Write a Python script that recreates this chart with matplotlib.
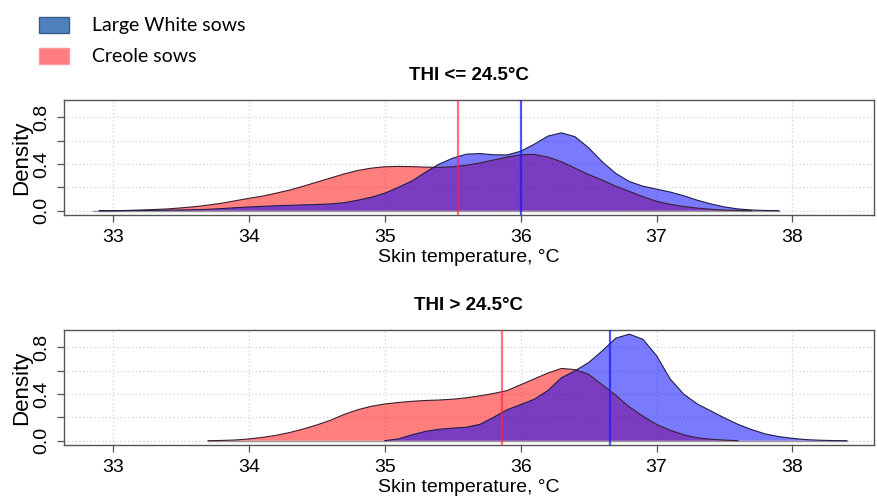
import matplotlib
matplotlib.use("Agg")
import matplotlib.pyplot as plt
from matplotlib.patches import Rectangle

# ---------------- data ----------------
legend_labels = ["Large White sows", "Creole sows"]
panel_titles = ["THI <= 24.5°C", "THI > 24.5°C"]
x_label = "Skin temperature, °C"
y_label = "Density"
x_ticks = [33, 34, 35, 36, 37, 38]
y_ticks = [0.0, 0.2, 0.4, 0.6, 0.8]
y_tick_labels = ["0.0", "", "0.4", "", "0.8"]

# Panel 1 (THI <= 24.5) - Creole sows density
creole_low_x = [32.9, 33.0, 33.1, 33.2, 33.3, 33.4, 33.5, 33.6, 33.7, 33.8, 33.9,
                34.0, 34.1, 34.2, 34.3, 34.4, 34.5, 34.6, 34.7, 34.8, 34.9,
                35.0, 35.1, 35.2, 35.3, 35.4, 35.5, 35.6, 35.7, 35.8, 35.9,
                36.0, 36.1, 36.2, 36.3, 36.4, 36.5, 36.6, 36.7, 36.8, 36.9,
                37.0, 37.1, 37.2, 37.3, 37.4, 37.5, 37.6, 37.7]
creole_low_y = [0.0, 0.0, 0.002, 0.005, 0.01, 0.015, 0.024, 0.034, 0.048, 0.064, 0.085,
                0.106, 0.125, 0.15, 0.177, 0.21, 0.245, 0.28, 0.315, 0.345, 0.365,
                0.377, 0.38, 0.378, 0.374, 0.372, 0.377, 0.39, 0.41, 0.435, 0.46,
                0.48, 0.483, 0.46, 0.42, 0.365, 0.31, 0.263, 0.21, 0.165, 0.12,
                0.08, 0.055, 0.036, 0.022, 0.012, 0.005, 0.002, 0.0]
# Panel 1 - Large White sows density
lw_low_x = [32.9, 33.0, 33.1, 33.2, 33.3, 33.4, 33.5, 33.6, 33.7, 33.8, 33.9,
            34.0, 34.1, 34.2, 34.3, 34.4, 34.5, 34.6, 34.7, 34.8, 34.9,
            35.0, 35.1, 35.2, 35.3, 35.4, 35.5, 35.6, 35.7, 35.8, 35.9,
            36.0, 36.1, 36.2, 36.3, 36.4, 36.5, 36.6, 36.7, 36.8, 36.9,
            37.0, 37.1, 37.2, 37.3, 37.4, 37.5, 37.6, 37.7, 37.8, 37.9]
lw_low_y = [0.0, 0.0, 0.001, 0.002, 0.003, 0.005, 0.006, 0.008, 0.012, 0.018, 0.025,
            0.032, 0.037, 0.042, 0.046, 0.05, 0.053, 0.058, 0.068, 0.09, 0.115,
            0.15, 0.2, 0.255, 0.33, 0.4, 0.45, 0.485, 0.49, 0.48, 0.478,
            0.51, 0.57, 0.64, 0.668, 0.635, 0.54, 0.42, 0.32, 0.25, 0.21,
            0.185, 0.16, 0.128, 0.09, 0.058, 0.032, 0.015, 0.006, 0.002, 0.0]
low_range = [32.85, 37.9]

# Panel 2 (THI > 24.5) - Creole sows density
creole_high_x = [33.7, 33.8, 33.9, 34.0, 34.1, 34.2, 34.3, 34.4, 34.5, 34.6, 34.7,
                 34.8, 34.9, 35.0, 35.1, 35.2, 35.3, 35.4, 35.5, 35.6, 35.7,
                 35.8, 35.9, 36.0, 36.1, 36.2, 36.3, 36.4, 36.5, 36.6, 36.7,
                 36.8, 36.9, 37.0, 37.1, 37.2, 37.3, 37.4, 37.5, 37.6]
creole_high_y = [0.0, 0.002, 0.006, 0.015, 0.028, 0.046, 0.07, 0.1, 0.135, 0.175, 0.225,
                 0.265, 0.295, 0.315, 0.328, 0.338, 0.345, 0.349, 0.356, 0.368, 0.385,
                 0.405, 0.43, 0.48, 0.53, 0.58, 0.62, 0.61, 0.57, 0.48, 0.39,
                 0.29, 0.21, 0.14, 0.09, 0.05, 0.025, 0.012, 0.005, 0.0]
# Panel 2 - Large White sows density
lw_high_x = [35.0, 35.1, 35.2, 35.3, 35.4, 35.5, 35.6, 35.7, 35.8, 35.9,
             36.0, 36.1, 36.2, 36.3, 36.4, 36.5, 36.6, 36.7, 36.8, 36.9,
             37.0, 37.1, 37.2, 37.3, 37.4, 37.5, 37.6, 37.7, 37.8, 37.9,
             38.0, 38.1, 38.2, 38.3, 38.4]
lw_high_y = [0.0, 0.015, 0.05, 0.08, 0.098, 0.108, 0.115, 0.14, 0.2, 0.265,
             0.31, 0.355, 0.43, 0.54, 0.6, 0.67, 0.77, 0.88, 0.914, 0.87,
             0.73, 0.53, 0.4, 0.315, 0.255, 0.195, 0.14, 0.095, 0.058, 0.035,
             0.02, 0.009, 0.004, 0.001, 0.0]
high_range = [33.7, 38.4]

# mean lines
creole_means = [35.54, 35.86]
lw_means = [36.0, 36.66]

# ---------------- styling ----------------
FONT = "Liberation Sans"
W, H = 877, 500
fig = plt.figure(figsize=(W / 100, H / 100), dpi=100)

AX_L, AX_R = 64, 874
panels = [
    dict(top=100, bottom=215, title_y=75, cx=creole_low_x, cy=creole_low_y,
         bx=lw_low_x, by=lw_low_y, rng=low_range),
    dict(top=330, bottom=445, title_y=305, cx=creole_high_x, cy=creole_high_y,
         bx=lw_high_x, by=lw_high_y, rng=high_range),
]

frame_col = "#555555"
for i, p in enumerate(panels):
    ax = fig.add_axes([AX_L / W, 1 - p["bottom"] / H, (AX_R - AX_L) / W,
                       (p["bottom"] - p["top"]) / H])
    ax.set_xlim(32.64, 38.6)
    ax.set_ylim(-0.037, 0.95)
    for gx in x_ticks:
        ax.axvline(gx, color="#d3d3d3", lw=0.9, ls=(0, (1, 2)), zorder=0)
    for gy in y_ticks:
        ax.axhline(gy, color="#d3d3d3", lw=0.9, ls=(0, (1, 2)), zorder=0)
    ax.plot(p["rng"], [0, 0], color="#9a9a9a", lw=1.0, zorder=1)
    ax.fill_between(p["cx"], p["cy"], 0, facecolor=(1, 0, 0, 0.5), lw=0, zorder=2)
    ax.fill_between(p["bx"], p["by"], 0, facecolor=(0, 0, 1, 0.52), lw=0, zorder=3)
    ax.plot(p["cx"], p["cy"], color="#3a2030", lw=0.8, zorder=4)
    ax.plot(p["bx"], p["by"], color="#1e1e4a", lw=0.8, zorder=4)
    ax.axvline(creole_means[i], color=(1, 0.15, 0.25), alpha=0.65, lw=1.6, zorder=5)
    ax.axvline(lw_means[i], color=(0.1, 0.1, 1.0), alpha=0.75, lw=1.6, zorder=5)

    ax.set_xticks(x_ticks)
    ax.set_xticklabels([str(t) for t in x_ticks], fontsize=14, family=FONT)
    ax.set_yticks(y_ticks)
    ax.set_yticklabels(y_tick_labels, fontsize=14, family=FONT, rotation=90,
                       va="center")
    ax.tick_params(axis="both", direction="out", length=5, width=0.9,
                   color=frame_col, pad=5)
    for s in ax.spines.values():
        s.set_color(frame_col)
        s.set_linewidth(1.0)

    fig.text((AX_L + AX_R) / 2 / W, 1 - p["title_y"] / H, panel_titles[i],
             ha="center", va="center", fontsize=13.5, fontweight="bold",
             family=FONT)
    fig.text((AX_L + AX_R) / 2 / W, 1 - (p["bottom"] + 42) / H, x_label,
             ha="center", va="center", fontsize=14, family=FONT)
    fig.text(32 / W, 1 - (p["top"] + p["bottom"]) / 2 / H, y_label,
             ha="right", va="center", rotation=90, fontsize=16, family=FONT)

# left edge mask (label is cut in the reference)
fig.patches.append(Rectangle((0, 0), 12 / W, 1, transform=fig.transFigure,
                             facecolor="white", edgecolor="none", zorder=10))

# legend
leg_items = [(legend_labels[0], "#4f81bd", "#385d8a", 17),
             (legend_labels[1], "#ff7c80", "#ff9a9c", 48)]
for lab, fc, ec, ytop in leg_items:
    fig.patches.append(Rectangle((39 / W, 1 - (ytop + 16) / H), 30 / W, 16 / H,
                                 transform=fig.transFigure, facecolor=fc,
                                 edgecolor=ec, lw=1.0, zorder=11))
    fig.text(92 / W, 1 - (ytop + 8) / H, lab, ha="left", va="center",
             fontsize=14, family="Lato", zorder=11)

fig.savefig("out.png", dpi=100)
